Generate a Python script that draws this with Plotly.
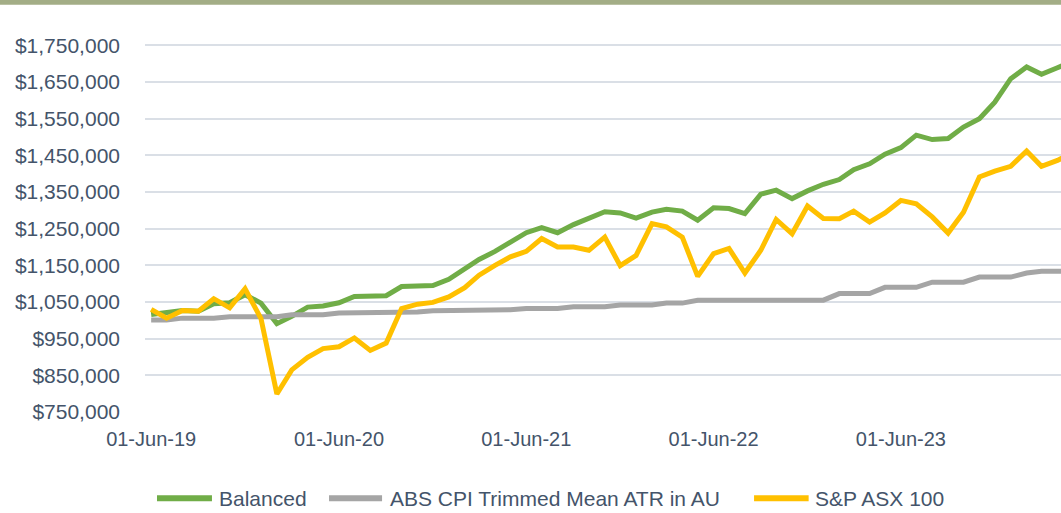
import pandas as pd
import plotly.graph_objects as go

dates = pd.date_range("2019-06-01", periods=60, freq="MS")

balanced = [1016, 1020, 1027, 1025, 1045, 1048, 1070, 1047, 991, 1011,
            1036, 1039, 1048, 1065, 1066, 1067, 1092, 1094, 1095, 1112,
            1141, 1166, 1188, 1214, 1239, 1253, 1239, 1261, 1277, 1296,
            1293, 1279, 1295, 1303, 1298, 1273, 1307, 1305, 1291, 1344,
            1355, 1332, 1353, 1371, 1384, 1411, 1427, 1453, 1471, 1505,
            1493, 1496, 1527, 1550, 1595, 1659, 1691, 1671, 1689, 1706]

cpi = [1001, 1001, 1006, 1006, 1006, 1010, 1010, 1010, 1010, 1015,
       1015, 1015, 1020, 1020, 1020, 1023, 1023, 1023, 1026, 1026,
       1026, 1029, 1029, 1029, 1032, 1032, 1032, 1037, 1037, 1037,
       1042, 1042, 1042, 1047, 1047, 1055, 1055, 1055, 1055, 1055,
       1055, 1055, 1055, 1055, 1073, 1073, 1073, 1090, 1090, 1090,
       1104, 1104, 1104, 1118, 1118, 1118, 1129, 1134, 1134, 1134]

asx100 = [1030, 1006, 1027, 1025, 1059, 1034, 1086, 1005, 799, 865,
          899, 923, 928, 952, 918, 938, 1032, 1044, 1049, 1064,
          1089, 1123, 1150, 1173, 1188, 1223, 1200, 1200, 1191, 1227,
          1149, 1177, 1264, 1255, 1227, 1120, 1182, 1196, 1129, 1191,
          1275, 1236, 1312, 1278, 1277, 1298, 1268, 1293, 1327, 1318,
          1282, 1238, 1295, 1391, 1407, 1420, 1462, 1420, 1436, 1458]

series_names = ["Balanced", "ABS CPI Trimmed Mean ATR in AU", "S&P ASX 100"]
series_values = [balanced, cpi, asx100]
series_colors = ["#70AD47", "#A5A5A5", "#FFC000"]

tick_dates = ["2019-06-01", "2020-06-01", "2021-06-01", "2022-06-01", "2023-06-01"]
tick_labels = ["01-Jun-19", "01-Jun-20", "01-Jun-21", "01-Jun-22", "01-Jun-23"]
y_ticks = list(range(750000, 1750001, 100000))
y_labels = ["${:,}".format(v) for v in y_ticks]

text_color = "#44546A"
font_family = "Liberation Sans, Arial, sans-serif"

fig = go.Figure()
for name, vals, col in zip(series_names, series_values, series_colors):
    fig.add_trace(go.Scatter(
        x=dates, y=[v * 1000 for v in vals], name=name, mode="lines",
        line=dict(color=col, width=5), hoverinfo="skip", showlegend=False))

# custom legend (long line samples, as in the reference)
legend_line_x = [(0.0131, 0.0731), (0.2009, 0.2588), (0.6649, 0.7245)]
legend_text_x = [0.0786, 0.2653, 0.7298]
legend_y = -0.224
shapes = [dict(type="rect", xref="paper", yref="paper",
               x0=-0.2, x1=1.0, y0=1.058, y1=1.09,
               fillcolor="#A3AD86", line=dict(width=0), layer="above")]
annotations = []
for name, col, (x0, x1), tx in zip(series_names, series_colors, legend_line_x, legend_text_x):
    shapes.append(dict(type="line", xref="paper", yref="paper",
                       x0=x0, x1=x1, y0=legend_y, y1=legend_y,
                       line=dict(color=col, width=6)))
    annotations.append(dict(text=name, xref="paper", yref="paper", x=tx, y=legend_y,
                            xanchor="left", yanchor="middle", showarrow=False,
                            font=dict(size=21, color=text_color)))

fig.update_layout(
    width=1061, height=513,
    margin=dict(l=145, r=0, t=27, b=101),
    paper_bgcolor="white", plot_bgcolor="white",
    font=dict(family=font_family, size=20, color=text_color),
    showlegend=False,
    xaxis=dict(type="date", range=["2019-05-20", "2024-04-08"],
               tickvals=tick_dates, ticktext=tick_labels,
               showgrid=False, zeroline=False, showline=False, ticks="",
               ticklabelstandoff=13,
               tickfont=dict(size=20, color=text_color)),
    yaxis=dict(range=[750000, 1800000], tickvals=y_ticks, ticktext=y_labels,
               showgrid=True, gridcolor="#DADFE6", gridwidth=1.5,
               zeroline=False, showline=False, ticks="",
               ticklabelstandoff=24,
               tickfont=dict(size=21, color=text_color)),
    shapes=shapes,
    annotations=annotations,
)

fig.write_html("out.html", config={"displayModeBar": False},
               post_script="document.body.style.margin='0';document.body.style.overflow='hidden';")
